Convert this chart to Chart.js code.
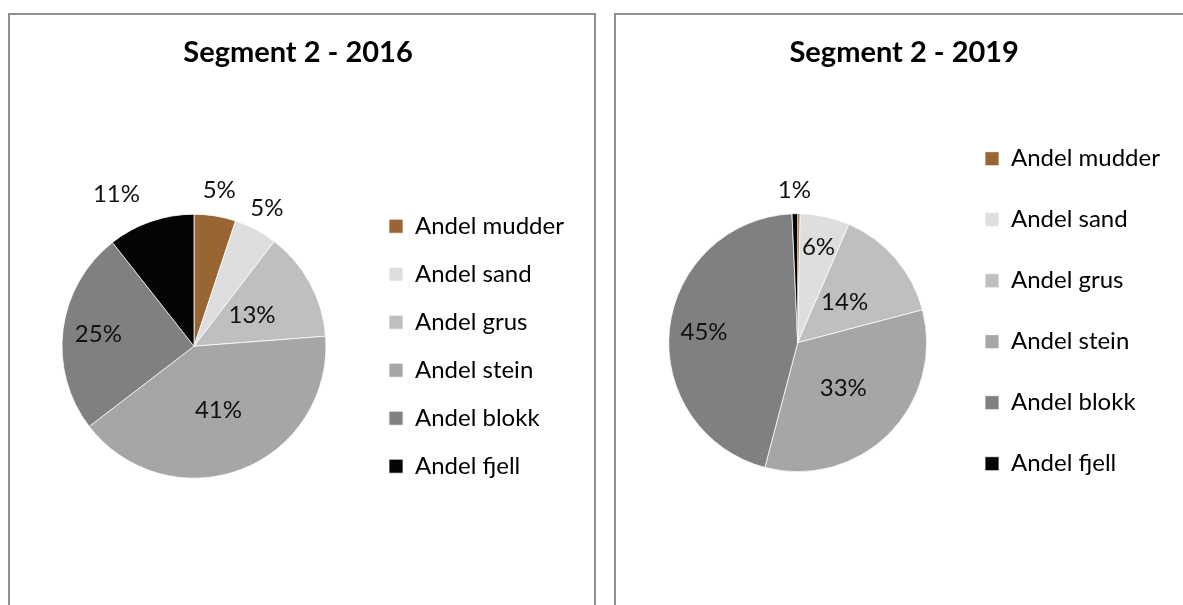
<!DOCTYPE html>
<html>
<head>
<meta charset="utf-8">
<script src="https://cdn.jsdelivr.net/npm/chart.js@4.4.1/dist/chart.umd.min.js"></script>
<style>
    html, body { margin: 0; padding: 0; background: #fff; overflow: hidden; }
    .panel { position: absolute; top: 13px; height: 700px; border: 2px solid #8f8f8f; box-sizing: border-box; }
    #panel-left { left: 8px; width: 588px; }
    #panel-right { left: 614px; width: 700px; }
    canvas { position: absolute; top: 0; }
    #chart-2016 { left: 0; }
    #chart-2019 { left: 600px; }
</style>
</head>
<body>
<div class="panel" id="panel-left"></div>
<div class="panel" id="panel-right"></div>
<canvas id="chart-2016" width="600" height="605"></canvas>
<canvas id="chart-2019" width="583" height="605"></canvas>
<script>
const categories = ['Andel mudder', 'Andel sand', 'Andel grus', 'Andel stein', 'Andel blokk', 'Andel fjell'];
const sliceColors = ['#996633', '#dedede', '#bfbfbf', '#a6a6a6', '#808080', '#050505'];
const values2016 = [5.1, 5.3, 13.4, 40.8, 24.8, 10.6];
const values2019 = [0.3, 6.2, 14.4, 33.2, 45.2, 0.7];

Chart.defaults.font.family = 'Lato';
Chart.defaults.color = '#000';

// percentage labels, placed along each slice's mid angle
const sliceLabels = {
    id: 'sliceLabels',
    afterDatasetsDraw(chart, args, opts) {
        const ctx = chart.ctx;
        const data = chart.data.datasets[0].data;
        const total = data.reduce((a, b) => a + b, 0);
        const arcs = chart.getDatasetMeta(0).data;
        ctx.save();
        ctx.font = '24px Lato';
        ctx.fillStyle = '#111';
        ctx.textAlign = 'center';
        ctx.textBaseline = 'middle';
        arcs.forEach((arc, i) => {
            const pct = Math.round(data[i] / total * 100);
            if (pct < 1) return;
            const p = arc.getProps(['x', 'y', 'startAngle', 'endAngle', 'outerRadius'], true);
            const mid = (p.startAngle + p.endAngle) / 2 + (opts.shift[i] || 0) * Math.PI / 180;
            const r = p.outerRadius * opts.radial[i];
            ctx.fillText(pct + '%', p.x + Math.cos(mid) * r, p.y + Math.sin(mid) * r);
        });
        ctx.restore();
    }
};

const makePie = (id, title, values, o) => {
    return new Chart(document.getElementById(id), {
        type: 'pie',
        data: {
            labels: categories,
            datasets: [{
                data: values,
                backgroundColor: sliceColors,
                borderColor: '#ffffff',
                borderWidth: 0.75,
                radius: o.radius
            }]
        },
        options: {
            responsive: false,
            animation: false,
            layout: { padding: o.padding },
            plugins: {
                title: {
                    display: true,
                    text: title,
                    font: { size: 29, weight: 'bold' },
                    color: '#000',
                    padding: o.titlePadding
                },
                legend: {
                    position: 'right',
                    fullSize: false,
                    align: o.legendAlign,
                    maxWidth: o.legendWidth,
                    labels: {
                        boxWidth: 14,
                        boxHeight: 14,
                        padding: o.legendPadding,
                        font: { size: 24 },
                        color: '#000'
                    }
                },
                tooltip: { enabled: false },
                sliceLabels: { radial: o.radial, shift: o.shift }
            }
        },
        plugins: [sliceLabels]
    });
};

makePie('chart-2016', 'Segment 2 - 2016', values2016, {
    radius: 132,
    padding: { left: 23, right: 27, top: 0, bottom: 3 },
    titlePadding: { top: 35.6, bottom: 20 },
    legendAlign: 'center',
    legendWidth: 208,
    legendPadding: 24,
    radial: [1.2, 1.18, 0.5, 0.52, 0.73, 1.29],
    shift: [0, 0, 0, 0, 0, -8]
});

makePie('chart-2019', 'Segment 2 - 2019', values2019, {
    radius: 129,
    padding: { left: 47.4, right: 22, top: 0, bottom: 29.3 },
    titlePadding: { top: 35.6, bottom: 39.3 },
    legendAlign: 'start',
    legendWidth: 213,
    legendPadding: 37,
    radial: [1.2, 0.76, 0.48, 0.5, 0.73, 1.18],
    shift: [0, 0, 0, 0, 0, 0]
});
</script>
</body>
</html>
